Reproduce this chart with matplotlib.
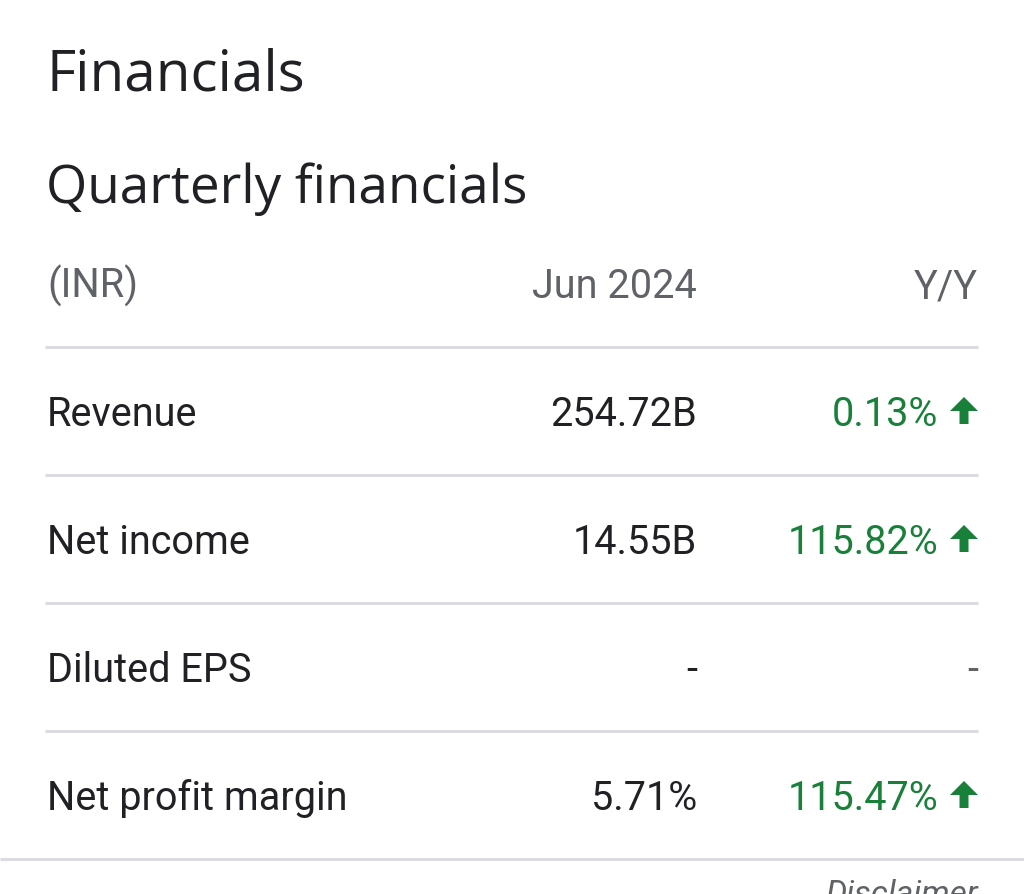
import matplotlib.pyplot as plt
from matplotlib.patches import Polygon

# table content
header = ["(INR)", "Jun 2024", "Y/Y"]
metrics = ["Revenue", "Net income", "Diluted EPS", "Net profit margin"]
values = ["254.72B", "14.55B", "-", "5.71%"]
changes = ["0.13%", "115.82%", "-", "115.47%"]
change_up = [True, True, None, True]

DARK = "#202124"
GREY = "#5f6368"
GREEN = "#188038"
LINE = "#dadce0"
FS = 28.5

fig = plt.figure(figsize=(10.24, 8.95), dpi=100)
ax = fig.add_axes([0, 0, 1, 1])
ax.set_xlim(0, 1024)
ax.set_ylim(895, 0)
ax.axis("off")

ax.text(46, 90, "Financials", fontsize=40.8, color=DARK, family="Open Sans",
        va="baseline", ha="left")
ax.text(46, 203, "Quarterly financials", fontsize=38.2, color=DARK, family="Open Sans",
        va="baseline", ha="left")

# header row
ax.text(47, 298, header[0], fontsize=FS, color=GREY, family="Roboto", va="baseline", ha="left")
ax.text(697, 298, header[1], fontsize=FS, color=GREY, family="Roboto", va="baseline", ha="right")
ax.text(978, 298, header[2], fontsize=FS, color=GREY, family="Roboto", va="baseline", ha="right")

row_h = 128
first_line = 348
ax.hlines(first_line, 45, 978, color=LINE, lw=2.2)

for i, name in enumerate(metrics):
    yb = first_line + row_h * i + 78
    yc = yb - 14
    ax.text(47, yb, name, fontsize=FS, color=DARK, family="Roboto", va="baseline", ha="left")
    ax.text(697, yb, values[i], fontsize=FS, color=DARK, family="Roboto", va="baseline", ha="right")
    if change_up[i] is None:
        ax.text(978, yb, changes[i], fontsize=FS, color=GREY, family="Roboto",
                va="baseline", ha="right")
    else:
        ax.text(938, yb, changes[i], fontsize=FS, color=GREEN, family="Roboto",
                va="baseline", ha="right")
        # up arrow icon
        cx, top, bot = 964, yc - 14, yc + 13
        pts = [(cx, top), (cx + 14, top + 14), (cx + 4.5, top + 14), (cx + 4.5, bot),
               (cx - 4.5, bot), (cx - 4.5, top + 14), (cx - 14, top + 14)]
        ax.add_patch(Polygon(pts, closed=True, color=GREEN, lw=0))
    ax.hlines(first_line + row_h * (i + 1), 45 if i < 3 else 0,
              978 if i < 3 else 1024, color=LINE, lw=2.2)

ax.text(978, 904, "Disclaimer", fontsize=24, color=GREY, family="Roboto",
        style="italic", va="baseline", ha="right")

fig.savefig("out.png", dpi=100, facecolor="white")
